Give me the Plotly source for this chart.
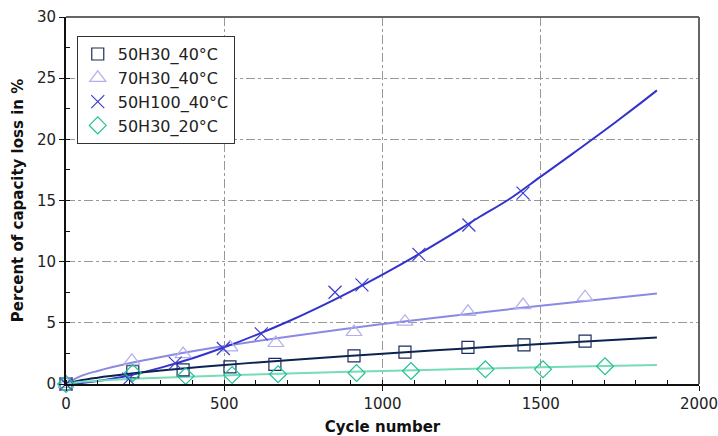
import plotly.graph_objects as go

cyc_sq = [0, 211, 370, 518, 660, 910, 1071, 1270, 1447, 1640]
loss_sq = [0, 1.0, 1.15, 1.4, 1.6, 2.3, 2.6, 3.0, 3.2, 3.5]

cyc_tr = [0, 208, 370, 518, 663, 910, 1071, 1270, 1444, 1640]
loss_tr = [0, 1.9, 2.45, 3.0, 3.35, 4.25, 5.1, 5.9, 6.45, 7.1]

cyc_x = [0, 198, 345, 497, 617, 850, 935, 1115, 1273, 1444]
loss_x = [0, 0.4, 1.7, 2.9, 4.1, 7.5, 8.1, 10.6, 13.0, 15.6]

cyc_di = [0, 211, 378, 525, 670, 918, 1090, 1325, 1507, 1703]
loss_di = [0, 0.9, 0.65, 0.73, 0.8, 0.9, 1.06, 1.2, 1.2, 1.45]

# ---- trend lines ----
trend_x_pts = [0, 50, 100, 200, 300, 500, 700, 1000, 1250, 1500, 1867]
trend_sq = [0, 0.32, 0.52, 0.83, 1.10, 1.55, 1.95, 2.48, 2.89, 3.27, 3.8]
trend_tr = [0, 0.68, 1.07, 1.69, 2.21, 3.1, 3.87, 4.90, 5.67, 6.40, 7.4]
trend_di = [0, 0.18, 0.27, 0.41, 0.52, 0.70, 0.86, 1.07, 1.22, 1.36, 1.55]

trend_xx_pts = [0, 50, 100, 200, 300, 400, 500, 600, 700, 800, 900, 1000, 1100,
                1200, 1300, 1400, 1500, 1600, 1700, 1800, 1867]
trend_xx = [0, 0.08, 0.24, 0.70, 1.34, 2.10, 3.0, 4.0, 5.09, 6.29, 7.58, 8.95, 10.40,
            11.94, 13.55, 15.1, 16.95, 18.81, 20.70, 22.65, 24.0]

names = ["50H30_40°C", "70H30_40°C", "50H100_40°C", "50H30_20°C"]

fig = go.Figure()

# trend lines
fig.add_trace(go.Scatter(x=trend_x_pts, y=trend_tr, mode="lines", line=dict(color="#8a8ae2", width=2, shape="spline"), showlegend=False, hoverinfo="skip"))
fig.add_trace(go.Scatter(x=trend_xx_pts, y=trend_xx, mode="lines", line=dict(color="#3333cc", width=2, shape="spline"), showlegend=False, hoverinfo="skip"))
fig.add_trace(go.Scatter(x=trend_x_pts, y=trend_sq, mode="lines", line=dict(color="#0c2250", width=2, shape="spline"), showlegend=False, hoverinfo="skip"))
fig.add_trace(go.Scatter(x=trend_x_pts, y=trend_di, mode="lines", line=dict(color="#78dcb6", width=2, shape="spline"), showlegend=False, hoverinfo="skip"))

# markers
fig.add_trace(go.Scatter(x=cyc_sq, y=loss_sq, mode="markers", name=names[0], cliponaxis=False,
                         marker=dict(symbol="square-open", size=12, color="#1c2c5c", line=dict(width=1.2))))
fig.add_trace(go.Scatter(x=cyc_tr, y=loss_tr, mode="markers", name=names[1], cliponaxis=False,
                         marker=dict(symbol="triangle-up-open", size=14, color="#b0b0ee", line=dict(width=1.2))))
fig.add_trace(go.Scatter(x=cyc_x, y=loss_x, mode="markers", name=names[2], cliponaxis=False,
                         marker=dict(symbol="x-thin-open", size=13, color="#3c3cd0", line=dict(width=1.2, color="#3c3cd0"))))
fig.add_trace(go.Scatter(x=cyc_di, y=loss_di, mode="markers", name=names[3], cliponaxis=False,
                         marker=dict(symbol="diamond-open", size=13, color="#20c095", line=dict(width=1.2))))

font_family = "DejaVu Sans"

fig.update_layout(
    width=718, height=436,
    margin=dict(l=66, r=19, t=17, b=52),
    paper_bgcolor="white", plot_bgcolor="white",
    font=dict(family=font_family, size=15, color="#222"),
    legend=dict(x=0.017, y=0.948, xanchor="left", yanchor="top",
                bordercolor="#333", borderwidth=1, bgcolor="white",
                font=dict(size=16, color="#222"), tracegroupgap=0, itemwidth=30),
    xaxis=dict(range=[0, 2000], dtick=500, tick0=0, automargin=False, ticklabeloverflow="allow",
               showline=True, linecolor="#111", linewidth=2,
               ticks="outside", ticklen=5, tickcolor="#111", tickwidth=1,
               showgrid=True, gridcolor="#999", griddash="dashdot", gridwidth=1,
               zeroline=False,
               minor=dict(dtick=100, ticks="inside", ticklen=4, tickcolor="#111", showgrid=False),
               title=dict(text="<b>Cycle number</b>", font=dict(size=15, color="#111"), standoff=10)),
    yaxis=dict(range=[0, 30], dtick=5, tick0=0, automargin=False, ticklabeloverflow="allow",
               showline=True, linecolor="#111", linewidth=2,
               ticks="outside", ticklen=5, tickcolor="#111", tickwidth=1,
               showgrid=True, gridcolor="#999", griddash="dashdot", gridwidth=1,
               zeroline=False,
               minor=dict(dtick=2.5, ticks="inside", ticklen=4, tickcolor="#111", showgrid=False),
               title=dict(text="<b>Percent of capacity loss in %</b>", font=dict(size=15, color="#111"), standoff=10)),
    shapes=[
        dict(type="line", xref="paper", yref="paper", x0=0, x1=1, y0=1, y1=1, line=dict(color="#666", width=2)),
        dict(type="line", xref="paper", yref="paper", x0=1, x1=1, y0=0, y1=1, line=dict(color="#666", width=2)),
    ],
)

fig.write_html("out.html")
